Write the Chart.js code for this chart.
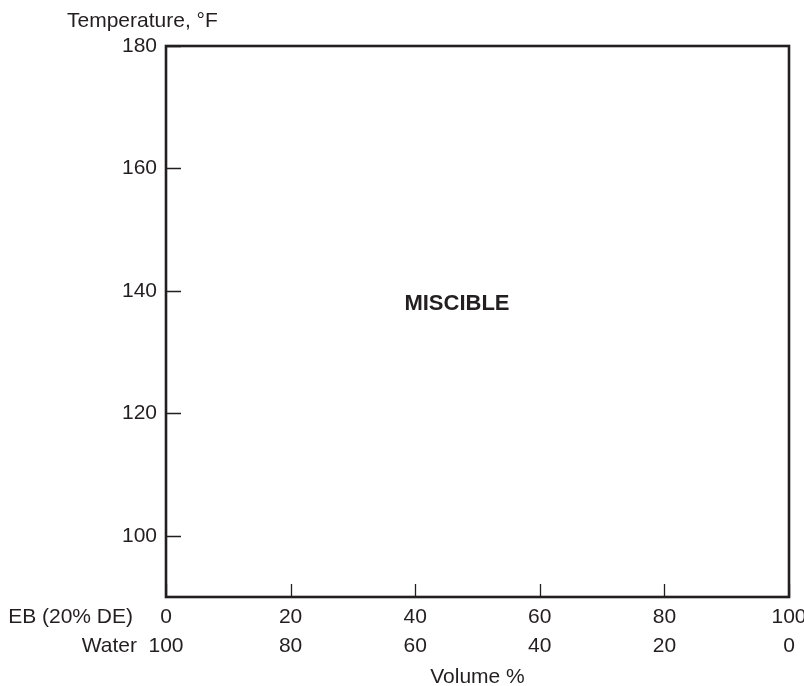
<!DOCTYPE html>
<html>
<head>
<meta charset="utf-8">
<script src="https://cdn.jsdelivr.net/npm/chart.js@4.4.1/dist/chart.umd.min.js"></script>
<style>
  body { margin: 0; background: #fff; }
  #wrap { width: 804px; height: 686px; }
</style>
</head>
<body>
<div id="wrap"><canvas id="phaseChart"></canvas></div>
<script>
// axis values
const ebTicks = [0, 20, 40, 60, 80, 100];      // EB (20% DE), vol %
const waterTicks = [100, 80, 60, 40, 20, 0];   // Water, vol %
const tempTicks = [100, 120, 140, 160, 180];   // deg F
const tempMin = 90;
const tempMax = 180;
const rowNames = ['EB (20% DE)', 'Water'];
const regionText = 'MISCIBLE';
const regionX = 46.7;
const regionY = 137.9;

const ink = '#231f20';
const fontFamily = '"Liberation Sans", Arial, Helvetica, sans-serif';
const fontSize = 21;
const labelLine = 29;
const labelPad = 6;

Chart.defaults.font.family = fontFamily;
Chart.defaults.color = ink;

const framePlugin = {
    id: 'frame',
    afterDraw(chart) {
        const ctx = chart.ctx;
        const area = chart.chartArea;
        const xs = chart.scales.x;
        const ys = chart.scales.y;
        ctx.save();

        // inward tick marks
        ctx.strokeStyle = ink;
        ctx.lineWidth = 1.3;
        ctx.beginPath();
        ebTicks.forEach(v => {
            const px = Math.round(xs.getPixelForValue(v)) + 0.5;
            ctx.moveTo(px, area.bottom);
            ctx.lineTo(px, area.bottom - 13);
        });
        tempTicks.forEach(v => {
            const py = Math.round(ys.getPixelForValue(v)) + 0.5;
            ctx.moveTo(area.left, py);
            ctx.lineTo(area.left + 15, py);
        });
        ctx.stroke();

        // box
        ctx.lineWidth = 2.6;
        ctx.strokeRect(area.left, area.top, area.right - area.left, area.bottom - area.top);

        ctx.fillStyle = ink;
        ctx.font = fontSize + 'px ' + fontFamily;
        ctx.textBaseline = 'middle';

        // row names left of the x tick labels
        ctx.textAlign = 'right';
        ctx.fillText(rowNames[0], area.left - 33, xs.top + labelPad + labelLine * 0.5);
        ctx.fillText(rowNames[1], area.left - 29, xs.top + labelPad + labelLine * 1.5);

        // y axis title, horizontal above the axis
        ctx.textAlign = 'left';
        ctx.fillText('Temperature, \u00B0F', 67, 21);

        // region label
        ctx.font = 'bold 22px ' + fontFamily;
        ctx.textAlign = 'center';
        ctx.fillText(regionText, xs.getPixelForValue(regionX), ys.getPixelForValue(regionY));
        ctx.restore();
    }
};

const ctx = document.getElementById('phaseChart').getContext('2d');
const phaseChart = new Chart(ctx, {
    type: 'scatter',
    data: { datasets: [] },
    options: {
        responsive: true,
        maintainAspectRatio: false,
        animation: false,
        layout: { padding: { top: 46, right: 15, left: 0, bottom: 0 } },
        plugins: {
            legend: { display: false },
            tooltip: { enabled: false }
        },
        scales: {
            x: {
                type: 'linear',
                min: 0,
                max: 100,
                grid: { display: false, drawTicks: false },
                border: { display: false },
                afterBuildTicks: axis => {
                    axis.ticks = ebTicks.map(v => ({ value: v }));
                },
                afterFit: axis => {
                    axis.height = 89;
                    axis.paddingLeft = 0;
                    axis.paddingRight = 0;
                },
                ticks: {
                    autoSkip: false,
                    maxRotation: 0,
                    padding: labelPad,
                    font: { size: fontSize, lineHeight: labelLine / fontSize },
                    callback: (value, i) => [String(ebTicks[i]), String(waterTicks[i])]
                },
                title: {
                    display: true,
                    text: 'Volume %',
                    font: { size: fontSize, lineHeight: 1.2 },
                    padding: { top: 0, bottom: -4 }
                }
            },
            y: {
                type: 'linear',
                min: tempMin,
                max: tempMax,
                grid: { display: false, drawTicks: false },
                border: { display: false },
                afterBuildTicks: axis => {
                    axis.ticks = tempTicks.map(v => ({ value: v }));
                },
                afterFit: axis => {
                    axis.width = 166;
                    axis.paddingTop = 0;
                    axis.paddingBottom = 0;
                },
                ticks: {
                    padding: 9,
                    font: { size: fontSize },
                    callback: value => String(value)
                }
            }
        }
    },
    plugins: [framePlugin]
});
</script>
</body>
</html>
